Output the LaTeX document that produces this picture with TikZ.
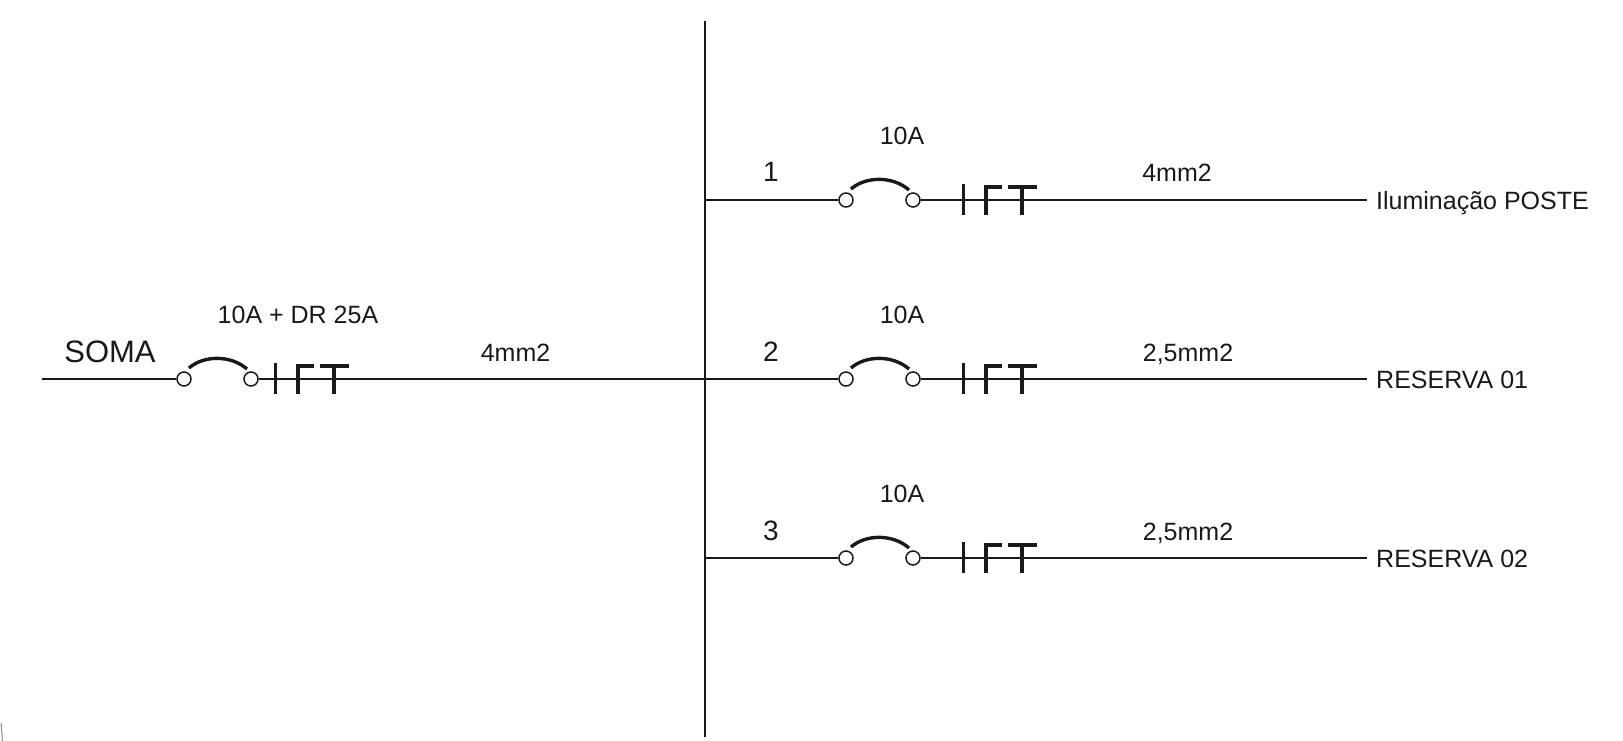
\documentclass[tikz,border=0pt]{standalone}
\usepackage{fontspec}
\setmainfont{Liberation Sans}
\tikzset{
  wire/.style={line width=2.8pt,black!90},
  busbar/.style={line width=2.2pt,black!90},
  stroke/.style={line width=3.4pt,black!90},
  term/.style={circle,draw=black!90,line width=1.5pt,fill=white,minimum size=14pt,inner sep=0pt},
  lab/.style={inner sep=0pt,font=\fontsize{25}{27}\selectfont,text=black!90},
  big/.style={inner sep=0pt,font=\fontsize{28}{30}\selectfont,text=black!90},
  big2/.style={inner sep=0pt,font=\fontsize{31}{33}\selectfont,text=black!90},
}
% #1 prefix, #2 x of left terminal, #3 y, #4 offset of first tick from right terminal
\newcommand{\breakerunit}[4]{%
  \node[term] (#1a) at (#2,#3) {};
  \node[term] (#1b) at (#2+67,#3) {};
  \draw[stroke] (#2+5,#3-11) .. controls (#2+20,#3-24) and (#2+47,#3-24) .. (#2+63,#3-10);
  \draw[stroke] (#2+67+#4,#3-16) -- (#2+67+#4,#3+15);
  \draw[stroke] (#2+67+#4+22.5,#3+15) -- (#2+67+#4+22.5,#3-13) -- (#2+67+#4+38,#3-13);
  \draw[stroke] (#2+67+#4+58.5,#3+15) -- (#2+67+#4+58.5,#3-13);
  \draw[stroke] (#2+67+#4+44,#3-13) -- (#2+67+#4+73,#3-13);
}
\begin{document}
\begin{tikzpicture}[x=1pt,y=-1pt]
\useasboundingbox (0,0) rectangle (1623,741);
\coordinate (bt) at (705,21);
\coordinate (bb) at (705,737);
\draw[busbar] (bt) -- (bb);
\coordinate (s0) at (42,379);
\coordinate (bm) at (705,379);
\coordinate (b1) at (705,200);
\coordinate (b2) at (705,379);
\coordinate (b3) at (705,558);
\coordinate (e1) at (1367,200);
\coordinate (e2) at (1367,379);
\coordinate (e3) at (1367,558);
\breakerunit{m}{184}{379}{24.5}
\breakerunit{p}{846}{200}{50.5}
\breakerunit{q}{846}{379}{50.5}
\breakerunit{r}{846}{558}{50.5}
\draw[wire] (s0) -- (ma);
\draw[wire] (mb) -- (bm);
\draw[wire] (b1) -- (pa);
\draw[wire] (pb) -- (e1);
\draw[wire] (b2) -- (qa);
\draw[wire] (qb) -- (e2);
\draw[wire] (b3) -- (ra);
\draw[wire] (rb) -- (e3);
\node[big2,anchor=base] (soma) at (110,362) {SOMA};
\node[lab,anchor=base] (tm) at (298,323) {10A + DR 25A};
\node[lab,anchor=base] (wm) at (515.5,361) {4mm2};
\node[big,anchor=base] (n1) at (771,182) {1};
\node[big,anchor=base] (n2) at (771,361) {2};
\node[big,anchor=base] (n3) at (771,540) {3};
\node[lab,anchor=base] (t1) at (902,145) {10A};
\node[lab,anchor=base] (t2) at (902,323) {10A};
\node[lab,anchor=base] (t3) at (902,502) {10A};
\node[lab,anchor=base] (w1) at (1177,182) {4mm2};
\node[lab,anchor=base] (w2) at (1188,361) {2,5mm2};
\node[lab,anchor=base] (w3) at (1188,540) {2,5mm2};
\node[lab,anchor=base west] (d1) at (1376,209) {Iluminação POSTE};
\node[lab,anchor=base west] (d2) at (1376,388) {RESERVA 01};
\node[lab,anchor=base west] (d3) at (1376,567) {RESERVA 02};
\coordinate (f1) at (1,723);
\coordinate (f2) at (2.5,741);
\draw[line width=1pt,black!45] (f1) -- (f2);
\end{tikzpicture}
\end{document}
